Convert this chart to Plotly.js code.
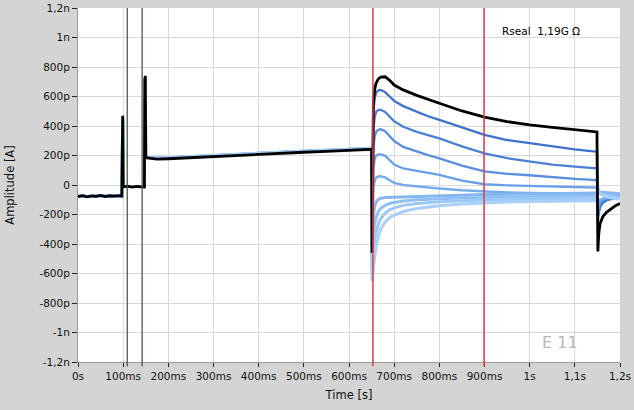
<!DOCTYPE html>
<html><head><meta charset="utf-8">
<script src="https://cdn.plot.ly/plotly-3.0.1.min.js"></script>
<style>html,body{margin:0;padding:0;background:#d4d4d4;}#chart{width:634px;height:410px;}</style>
</head><body><div id="chart"></div>
<script>
// Time axis (ms) and currents (pA)
const preT = [0,10,20,30,40,50,60,70,80,90,97,98,99,100,101,110,120,130,140,146,147,148,149,150,175,200,250,300,350,400,450,500,550,600,625,650];
const postT = [651,652,654,657,660,665,670,680,690,700,720,750,775,800,850,900,950,1000,1050,1100,1130,1149,1151,1153,1156,1162,1170,1180,1190,1200];

const preBlack = [-78,-72,-80,-74,-77,-70,-79,-73,-76,-72,-75,460,470,-5,-12,-8,-14,-10,-12,-9,-14,720,740,185,175,178,186,194,200,208,216,222,228,234,238,242];
const preBlue  = [-78,-74,-78,-75,-76,-73,-77,-74,-75,-73,-75,440,455,-8,-12,-10,-12,-11,-11,-10,-13,700,720,190,182,185,193,201,207,215,223,229,235,241,245,248];

const postBlack  = [-460,300,560,650,690,720,732,734,710,678,645,608,580,554,502,460,430,407,390,375,366,360,-450,-330,-260,-215,-185,-160,-140,-125];
const postBlue1  = [-250,250,500,590,625,642,645,630,598,570,535,495,466,441,388,340,305,283,260,242,232,226,-250,-190,-150,-120,-105,-95,-88,-82];
const postBlue2  = [-300,150,380,460,495,510,510,495,462,432,395,360,338,316,262,215,182,158,138,124,117,113,-220,-170,-135,-110,-100,-92,-86,-80];
const postBlue3  = [-350,50,260,330,360,375,378,365,330,298,258,225,202,181,132,92,76,66,52,42,37,34,-190,-150,-120,-100,-92,-86,-80,-76];
const postBlue4  = [-400,-80,120,175,198,208,208,198,165,138,112,95,82,68,30,5,-2,-5,-10,-14,-16,-18,-160,-130,-110,-95,-88,-82,-78,-74];
const postBlue5  = [-450,-200,-20,30,50,58,60,52,30,14,0,-10,-17,-23,-36,-45,-50,-54,-57,-60,-61,-62,-140,-115,-100,-92,-85,-80,-76,-72];
const postLight1 = [-500,-300,-200,-140,-115,-98,-90,-85,-84,-82,-80,-76,-74,-72,-68,-65,-62,-60,-58,-56,-55,-55,-60,-55,-52,-50,-52,-55,-58,-60];
const postLight2 = [-550,-420,-330,-260,-220,-180,-160,-138,-125,-118,-108,-100,-96,-92,-88,-84,-81,-79,-77,-76,-75,-75,-40,-50,-58,-65,-70,-75,-78,-80];
const postLight3 = [-600,-520,-440,-370,-320,-265,-230,-190,-168,-155,-138,-125,-118,-113,-106,-101,-97,-95,-93,-92,-91,-91,-30,-45,-58,-70,-78,-84,-88,-90];
const postLight4 = [-650,-640,-560,-480,-420,-350,-300,-250,-222,-205,-180,-160,-148,-140,-128,-120,-115,-112,-110,-108,-107,-107,-20,-40,-55,-68,-78,-86,-92,-95];

const cursorGreen = [109, 142];
const cursorRed = [653, 899];

const xTickVals = [0,100,200,300,400,500,600,700,800,900,1000,1100,1200];
const xTickText = ["0s","100ms","200ms","300ms","400ms","500ms","600ms","700ms","800ms","900ms","1s","1,1s","1,2s"];
const yTickVals = [1200,1000,800,600,400,200,0,-200,-400,-600,-800,-1000,-1200];
const yTickText = ["1,2n","1n","800p","600p","400p","200p","0","-200p","-400p","-600p","-800p","-1n","-1,2n"];

const T = preT.concat(postT);
const blueSeries = [
  {post: postBlue1,  color: "#3f72cf", w: 2.3},
  {post: postBlue2,  color: "#4c80d8", w: 2.3},
  {post: postBlue3,  color: "#5a8fe0", w: 2.3},
  {post: postBlue4,  color: "#6a9ee8", w: 2.3},
  {post: postBlue5,  color: "#78abee", w: 2.5},
  {post: postLight1, color: "#84b6f2", w: 3},
  {post: postLight2, color: "#8fbff5", w: 3},
  {post: postLight3, color: "#9cc8f8", w: 3},
  {post: postLight4, color: "#a9d0fb", w: 3}
];
const traces = blueSeries.map(s => ({
  x: T, y: preBlue.concat(s.post), type: "scatter", mode: "lines",
  line: {color: s.color, width: s.w}, hoverinfo: "skip", showlegend: false
}));
traces.push({x: T, y: preBlack.concat(postBlack), type: "scatter", mode: "lines",
  line: {color: "#000000", width: 2.8}, hoverinfo: "skip", showlegend: false});

const shapes = [];
cursorGreen.forEach(t => shapes.push({type:"line", xref:"x", yref:"paper", x0:t, x1:t, y0:-0.012, y1:1, line:{color:"#4b5a3c", width:1.3}}));
cursorRed.forEach(t => shapes.push({type:"line", xref:"x", yref:"paper", x0:t, x1:t, y0:-0.012, y1:1, line:{color:"#e03a40", width:1.5}}));

const font = {family: "DejaVu Sans, Verdana, sans-serif", size: 10.5, color: "#111"};
const titleFont = {family: "DejaVu Sans, Verdana, sans-serif", size: 11.5, color: "#111"};
const layout = {
  width: 634, height: 410,
  margin: {l: 78, r: 14, t: 8, b: 48},
  paper_bgcolor: "#d4d4d4", plot_bgcolor: "#ffffff",
  font: font, showlegend: false,
  xaxis: {range: [0, 1200], tickvals: xTickVals, ticktext: xTickText, showgrid: true, gridcolor: "#d9d9d9",
    zeroline: false, showline: true, linecolor: "#9a9a9a", ticks: "outside", ticklen: 4, tickcolor: "#222",
    title: {text: "Time [s]", font: titleFont, standoff: 10}},
  yaxis: {range: [-1200, 1200], tickvals: yTickVals, ticktext: yTickText, showgrid: true, gridcolor: "#d9d9d9",
    zeroline: false, showline: true, linecolor: "#9a9a9a", ticks: "outside", ticklen: 5, tickcolor: "#222",
    title: {text: "Amplitude [A]", font: titleFont, standoff: 22}},
  shapes: shapes,
  annotations: [
    {xref:"paper", yref:"paper", x:0.779, y:0.935, xanchor:"left", yanchor:"middle", showarrow:false,
     text:"Rseal  1,19G Ω", font:{family:"DejaVu Sans, sans-serif", size:10.5, color:"#000"}},
    {xref:"paper", yref:"paper", x:0.852, y:0.056, xanchor:"left", yanchor:"middle", showarrow:false,
     text:"E 11", font:{family:"DejaVu Sans, sans-serif", size:16, color:"#b8b8b8"}}
  ]
};
Plotly.newPlot("chart", traces, layout, {displayModeBar: false, staticPlot: true});
</script></body></html>
